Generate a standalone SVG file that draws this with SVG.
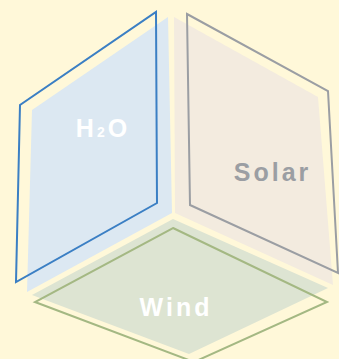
<svg xmlns="http://www.w3.org/2000/svg" width="339" height="359" viewBox="0 0 339 359">
<style>
.lbl{font-family:"Liberation Sans",Arial,sans-serif;font-weight:bold;font-size:25px;letter-spacing:3px;text-anchor:middle}
.face{stroke:none}
.edge{fill:none;stroke-width:2;stroke-linejoin:miter}
</style>
<rect x="0" y="0" width="339" height="359" fill="#fff8d9"/>
<g id="h2o">
<polygon class="face" fill="#dce8f2" points="168,17 172,213 27,292 32,110"/>
<polygon class="edge" stroke="#3b7fc4" points="156,12 157,203 16,282 20,105"/>
<text class="lbl" x="103" y="137" fill="#ffffff">H<tspan font-size="14">2</tspan>O</text>
</g>
<g id="solar">
<polygon class="face" fill="#f3ebdf" points="174,17 318,97 333,285 175,213"/>
<polygon class="edge" stroke="#9b9ea3" points="187,14 328,91 338,273 190,205"/>
<text class="lbl" x="272.5" y="181" fill="#9b9ea3">Solar</text>
</g>
<g id="wind">
<polygon class="face" fill="#dde4d2" points="173,219 328,288 189,354 32,295"/>
<polygon class="edge" stroke="#a4b883" points="173,228 327,302 194,362 35,302"/>
<text class="lbl" x="176" y="316" fill="#ffffff">Wind</text>
</g>
<g id="connectors"/>
</svg>
